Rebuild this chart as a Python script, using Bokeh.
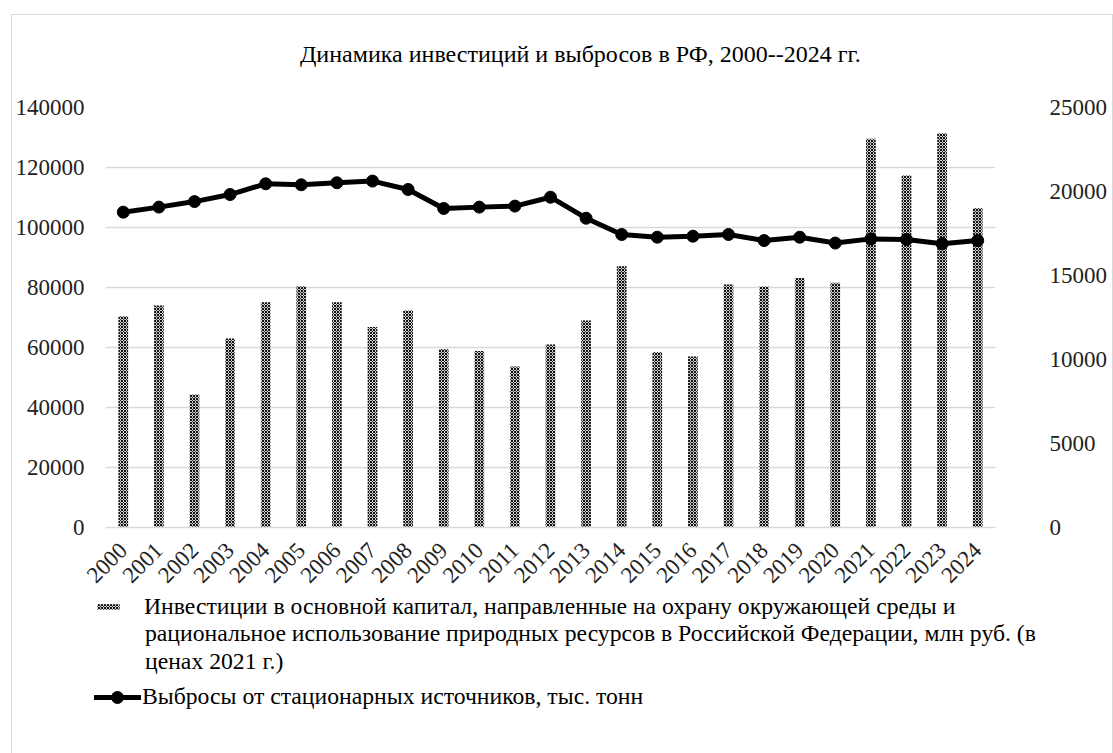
from bokeh.plotting import figure
from bokeh.layouts import column
from bokeh.models import (Range1d, FactorRange, LinearAxis, FixedTicker, Label,
                          Legend, LegendItem, ColumnDataSource, NumeralTickFormatter)
from bokeh.embed import file_html
from bokeh.resources import INLINE

years = [str(y) for y in range(2000, 2025)]
investments = [70400, 74000, 44300, 63000, 75100, 80400, 75100, 66800, 72300, 59500,
               58800, 53700, 61000, 69000, 87100, 58500, 57000, 81000, 80300, 83200,
               81600, 129600, 117300, 131400, 106500]
emissions = [18770, 19070, 19400, 19820, 20460, 20400, 20520, 20620, 20120, 18990,
             19070, 19130, 19660, 18410, 17440, 17280, 17340, 17440, 17080, 17280,
             16930, 17180, 17140, 16890, 17080]
left_ticks = [0, 20000, 40000, 60000, 80000, 100000, 120000, 140000]
right_ticks = [0, 5000, 10000, 15000, 20000, 25000]

title_text = "Динамика инвестиций и выбросов в РФ, 2000--2024 гг."
label_inv_1 = "Инвестиции в основной капитал, направленные на охрану окружающей среды и"
label_inv_rest = ("рациональное использование природных ресурсов в Российской Федерации, млн руб. (в\n"
                  "ценах 2021 г.)")
label_em = "Выбросы от стационарных источников, тыс. тонн"

FONT = "Liberation Serif"
TICK_SIZE = "23px"
LEG_SIZE = "23.7px"

BAR_STYLE = dict(fill_color="#cfcfcf", line_color=None, hatch_pattern="diagonal_cross",
                 hatch_color="#111111", hatch_scale=3, hatch_weight=1)
LINE_STYLE = dict(line_color="black", line_width=5)
MARK_STYLE = dict(size=12, fill_color="black", line_color="black")

src = ColumnDataSource(dict(year=years, inv=investments, em=emissions))


def blank_fig(h, left=0):
    f = figure(width=1100, height=h, x_range=Range1d(0, 1), y_range=Range1d(0, 1),
               output_backend="svg", toolbar_location=None, min_border_left=left,
               min_border_right=0, min_border_top=0, min_border_bottom=0,
               frame_align=False)
    f.axis.visible = False
    f.grid.visible = False
    f.outline_line_color = None
    f.background_fill_color = "white"
    f.border_fill_color = "white"
    return f


# ---- title strip ----
TH = 79
t = blank_fig(TH)
t.add_layout(Label(x=287.5, y=TH - 38, x_units="screen", y_units="screen",
                   text=title_text, text_font=FONT, text_font_size="24px",
                   text_color="black", text_baseline="middle", text_align="left"))

# ---- main chart ----
p = figure(width=1100, height=499, x_range=FactorRange(*years, range_padding=0),
           y_range=Range1d(0, 140000), output_backend="svg", toolbar_location=None,
           min_border_left=93, min_border_right=117, min_border_top=13,
           min_border_bottom=66, frame_align=False)
p.extra_y_ranges = {"right": Range1d(0, 25000)}
p.outline_line_color = None
p.background_fill_color = "white"
p.border_fill_color = "white"

p.xgrid.grid_line_color = None
p.ygrid.grid_line_color = "#d9d9d9"
p.ygrid.grid_line_width = 1.5
p.ygrid.ticker = FixedTicker(ticks=left_ticks)

p.yaxis.ticker = FixedTicker(ticks=left_ticks)
p.yaxis.formatter = NumeralTickFormatter(format="0")
for ax in p.yaxis:
    ax.axis_line_color = None
    ax.major_tick_line_color = None
    ax.major_tick_out = 0
    ax.minor_tick_line_color = None
    ax.minor_tick_out = 0
    ax.major_label_text_font = FONT
    ax.major_label_text_font_size = TICK_SIZE
    ax.major_label_text_color = "#222222"
    ax.major_label_standoff = 21

xa = p.xaxis[0]
xa.axis_line_color = "#d9d9d9"
xa.axis_line_width = 1.5
xa.major_tick_line_color = None
xa.major_tick_out = 0
xa.minor_tick_line_color = None
xa.minor_tick_out = 0
xa.major_label_orientation = 0.785398
xa.major_label_text_font = FONT
xa.major_label_text_font_size = TICK_SIZE
xa.major_label_text_color = "#222222"
xa.major_label_standoff = 19

ra = LinearAxis(y_range_name="right", ticker=FixedTicker(ticks=right_ticks),
                formatter=NumeralTickFormatter(format="0"))
ra.axis_line_color = None
ra.major_tick_line_color = None
ra.major_tick_out = 0
ra.minor_tick_line_color = None
ra.minor_tick_out = 0
ra.major_label_text_font = FONT
ra.major_label_text_font_size = TICK_SIZE
ra.major_label_text_color = "#222222"
ra.major_label_standoff = 54
p.add_layout(ra, "right")

p.vbar(x="year", top="inv", width=0.27, source=src, **BAR_STYLE)
p.line(x="year", y="em", source=src, y_range_name="right", **LINE_STYLE)
p.scatter(x="year", y="em", source=src, y_range_name="right", **MARK_STYLE)

# ---- legend strip (hidden renderers supply the legend glyphs) ----
QH = 167
Q_TOP = 593.5  # page y of the strip's top edge, used to place texts inside it
q = figure(width=1100, height=QH, x_range=FactorRange(*years), y_range=Range1d(0, 1),
           output_backend="svg", toolbar_location=None, min_border_left=82,
           min_border_right=0, min_border_top=0, min_border_bottom=0, frame_align=False)
q.axis.visible = False
q.grid.visible = False
q.outline_line_color = None
q.background_fill_color = "white"
q.border_fill_color = "white"
lb = q.vbar(x="year", top="inv", width=0.27, source=src, visible=False, **BAR_STYLE)
ll = q.line(x="year", y="em", source=src, visible=False, **LINE_STYLE)
lm = q.scatter(x="year", y="em", source=src, visible=False, **MARK_STYLE)

common = dict(orientation="vertical", label_text_font=FONT, label_text_font_size=LEG_SIZE,
              label_text_color="black", spacing=0, padding=0, margin=0,
              border_line_color=None, background_fill_alpha=0, inactive_fill_alpha=0)

legend_a = Legend(items=[LegendItem(label=label_inv_1, renderers=[lb])],
                  location="top_left", glyph_width=28, glyph_height=7,
                  label_standoff=22, **common)
q.add_layout(legend_a, "center")

q.add_layout(Label(x=50.5, y=QH - (620 - Q_TOP), x_units="screen", y_units="screen",
                   text=label_inv_rest, text_font=FONT, text_font_size=LEG_SIZE,
                   text_color="black", text_baseline="top", text_align="left",
                   text_line_height=1.08))

legend_b = Legend(items=[LegendItem(label=label_em, renderers=[ll, lm])],
                  location=(-1, QH - (712 - Q_TOP)), glyph_width=48, glyph_height=30,
                  label_standoff=1, **common)
q.add_layout(legend_b, "center")

layout = column(t, p, q, spacing=0)
layout.margin = (14, 0, 0, 11)
layout.styles = {"border": "1.5px solid #d9d9d9"}

open("out.html", "w").write(file_html(layout, INLINE))
